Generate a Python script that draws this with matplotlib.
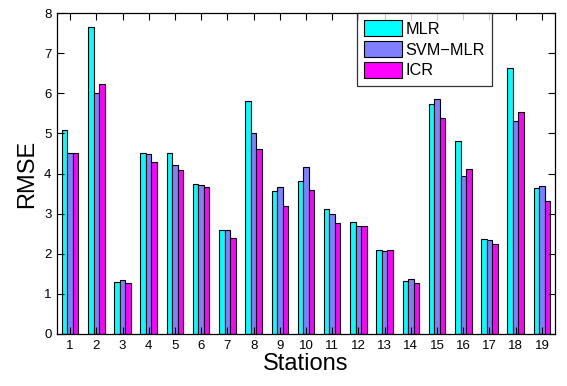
import matplotlib
matplotlib.use("Agg")
import matplotlib.pyplot as plt
import numpy as np

plt.rcParams['font.family'] = ['Liberation Sans', 'DejaVu Sans']

stations = [str(i) for i in range(1, 20)]
mlr = [5.08, 7.65, 1.29, 4.50, 4.50, 3.74, 2.59, 5.80, 3.57, 3.82,
       3.12, 2.79, 2.09, 1.31, 5.72, 4.82, 2.37, 6.62, 3.63]
svm_mlr = [4.52, 6.00, 1.35, 4.48, 4.22, 3.72, 2.58, 5.02, 3.66, 4.15,
           2.98, 2.70, 2.08, 1.36, 5.86, 3.94, 2.34, 5.32, 3.68]
icr = [4.50, 6.22, 1.27, 4.28, 4.09, 3.66, 2.39, 4.61, 3.18, 3.58,
       2.76, 2.69, 2.10, 1.26, 5.38, 4.11, 2.24, 5.53, 3.31]
series_names = ["MLR", "SVM\u2212MLR", "ICR"]
colors = ["#00ffff", "#7f7fff", "#ff00ff"]

fig = plt.figure(figsize=(5.67, 3.86), dpi=100)
ax = fig.add_axes([57/567, 1-334/386, (555-57)/567, (334-13)/386])

x = np.arange(1, len(stations) + 1)
w = 0.21
for i, (vals, name, c) in enumerate(zip([mlr, svm_mlr, icr], series_names, colors)):
    ax.bar(x + (i - 1) * w, vals, width=w, color=c, edgecolor='black',
           linewidth=0.8, label=name)

ax.set_xlim(0.5, 19.5)
ax.set_ylim(0, 8)
ax.set_xticks(x)
ax.set_xticklabels(stations)
ax.set_yticks(range(0, 9))
ax.tick_params(direction='in', top=True, right=True, length=5, width=0.8,
               labelsize=9.5, pad=4)
for s in ax.spines.values():
    s.set_linewidth(0.9)
ax.set_xlabel("Stations", fontsize=17, labelpad=1)
ax.set_ylabel("RMSE", fontsize=17, labelpad=4)

leg = ax.legend(loc='upper left', bbox_to_anchor=(0.602, 1.0), borderaxespad=0,
                fontsize=11.7, frameon=True, fancybox=False, edgecolor='black',
                handlelength=2.35, handleheight=1.1, handletextpad=0.2,
                labelspacing=0.28, borderpad=0.45)
leg.get_frame().set_linewidth(0.9)

fig.savefig("out.png", dpi=100)
